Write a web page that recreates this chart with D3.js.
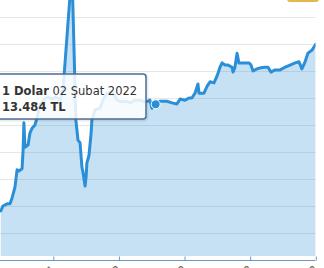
<!DOCTYPE html>
<html lang="tr">
<head>
<meta charset="UTF-8">
<title>Dolar kuru</title>
<script src="https://d3js.org/d3.v7.min.js"></script>
<style>
  body { margin: 0; background: #fff; overflow: hidden; }
  svg { display: block; font-family: "DejaVu Sans", Verdana, sans-serif; }
</style>
</head>
<body>
<svg id="chart" width="324" height="268"></svg>
<script>
// işlem günü (index) ve kur (TL)
const gun = [0, 0.8, 2.4, 3.5, 4.3, 5.4, 6.2, 6.9, 8.1, 8.5, 8.8, 9.2, 10.4, 11.1, 11.9, 13, 13.8, 14.9,
  16.5, 18, 19.5, 21, 22.6, 23.7, 27.1, 28.6, 29.4, 30.2, 30.9, 31.3, 32.1, 32.5, 32.8, 33.6, 34.4, 34.7,
  35.9, 37.8, 38.9, 40.5, 42.4, 43.5, 44.3, 46.2, 48.1, 49.2, 51.1, 53, 54.9, 56.1, 56.8, 57.6, 59,
  60.6, 63.3, 65.2, 67.1, 68.3, 70.2, 71.7, 72.8, 74, 75.1, 75.5, 77.4, 78.6, 79.7, 81.2, 82.4, 83.5,
  84.3, 85.4, 86.6, 88.1, 88.5, 89.2, 90, 90.7, 91.9, 93, 94.6, 95.3, 96.1, 97.6, 99.1, 100.6, 101.8,
  102.9, 104.5, 106.4, 108.3, 110.2, 112.1, 113.6, 114.7, 115.9, 117, 118.6, 120];
const kur = [11.51, 11.60, 11.64, 11.64, 11.75, 11.95, 12.27, 12.25, 12.29, 12.64, 13.14, 12.69, 12.73, 12.95, 13.04, 13.10, 13.23, 13.47,
  13.58, 13.62, 13.58, 13.62, 13.56, 13.75, 15.97, 13.19, 12.82, 12.77, 12.32, 12.23, 11.97, 12.14, 12.40, 12.54, 12.95, 13.19,
  13.38, 13.41, 13.56, 13.69, 13.71, 13.64, 13.56, 13.53, 13.54, 13.51, 13.56, 13.56, 13.53, 13.54, 13.56, 13.41, 13.484,
  13.54, 13.54, 13.51, 13.49, 13.58, 13.56, 13.60, 13.60, 13.69, 13.86, 13.69, 13.69, 13.82, 13.90, 13.88, 14.01, 14.17,
  14.25, 14.21, 14.21, 14.17, 14.08, 14.17, 14.43, 14.25, 14.25, 14.25, 14.25, 14.21, 14.10, 14.14, 14.16, 14.17, 14.17,
  14.08, 14.12, 14.12, 14.17, 14.21, 14.25, 14.27, 14.14, 14.27, 14.43, 14.49, 14.60];

const tickGun = [20, 45, 70, 95, 120];
const tickEtiket = ["10.12.2021", "14.01.2022", "18.02.2022", "25.03.2022", "29.04.2022"];
const gridDeger = [11.1, 11.6, 12.1, 12.6, 13.1, 13.6, 14.1, 14.6, 15.1];

const secili = { gun: 59, kur: 13.484, tarih: "02 Şubat 2022" };

const renk = "#2b8fd8";
const plotSag = 315.5, plotAlt = 256;

const svg = d3.select("#chart");
const x = d3.scaleLinear().domain([0, 120]).range([0.8, 315.8]);
const y = d3.scaleLinear().domain([11.1, 15.1]).range([233, 17]);

const data = gun.map((g, i) => ({ g: g, v: kur[i] }));

svg.append("defs").append("clipPath").attr("id", "plot")
  .append("rect").attr("x", -10).attr("y", -100).attr("width", plotSag + 10).attr("height", plotAlt + 100);

// grid
svg.append("g").selectAll("line").data(gridDeger).enter().append("line")
  .attr("x1", 0).attr("x2", plotSag)
  .attr("y1", d => Math.round(y(d)) + 0.5).attr("y2", d => Math.round(y(d)) + 0.5)
  .attr("stroke", "#e6e6e6").attr("stroke-width", 1);

const g = svg.append("g").attr("clip-path", "url(#plot)");

g.append("path").datum(data)
  .attr("d", d3.area().x(d => x(d.g)).y0(plotAlt).y1(d => y(d.v)))
  .attr("fill", renk).attr("fill-opacity", 0.27);

g.append("path").datum(data)
  .attr("d", d3.line().x(d => x(d.g)).y(d => y(d.v)))
  .attr("fill", "none").attr("stroke", renk).attr("stroke-width", 3)
  .attr("stroke-linejoin", "round").attr("stroke-linecap", "round");

// x ekseni
const eksen = svg.append("g").attr("transform", "translate(0,260.5)")
  .call(d3.axisBottom(x).tickValues(tickGun).tickSizeInner(-4).tickSizeOuter(0).tickFormat(""));
eksen.select(".domain").attr("stroke", "#6f98bf").attr("d", "M0,0H" + plotSag);
eksen.selectAll(".tick line").attr("stroke", "#6f98bf");

svg.append("g").selectAll("text").data(tickGun).enter().append("text")
  .attr("transform", d => `translate(${x(d) + 3},270) rotate(-45)`)
  .attr("text-anchor", "end").attr("font-size", 11).attr("fill", "#666")
  .text((d, i) => tickEtiket[i]);

// üst köşedeki buton
svg.append("rect").attr("x", 287).attr("y", -5).attr("width", 32).attr("height", 7)
  .attr("rx", 3).attr("fill", "#e2b84a");

// seçili nokta
svg.append("circle").attr("cx", x(secili.gun)).attr("cy", y(secili.kur)).attr("r", 4.5)
  .attr("fill", renk).attr("stroke", "#fff").attr("stroke-width", 1);

// tooltip
const tt = svg.append("g");
tt.append("rect").attr("x", -9).attr("y", 75).attr("width", 156).attr("height", 45).attr("rx", 3)
  .attr("fill", "none").attr("stroke", "#000").attr("stroke-opacity", 0.08).attr("stroke-width", 3);
tt.append("rect").attr("x", -10).attr("y", 74).attr("width", 156).attr("height", 45).attr("rx", 3)
  .attr("fill", "#fff").attr("fill-opacity", 0.85)
  .attr("stroke", "#4d6d95").attr("stroke-width", 1.5);
const t1 = tt.append("text").attr("x", 2).attr("y", 95).attr("font-size", 11.5).attr("fill", "#333");
t1.append("tspan").attr("font-weight", "bold").text("1 Dolar");
t1.append("tspan").text(" " + secili.tarih);
tt.append("text").attr("x", 2).attr("y", 111).attr("font-size", 11.5).attr("font-weight", "bold")
  .attr("fill", "#333").text(d3.format(".3f")(secili.kur) + " TL");
</script>
</body>
</html>
